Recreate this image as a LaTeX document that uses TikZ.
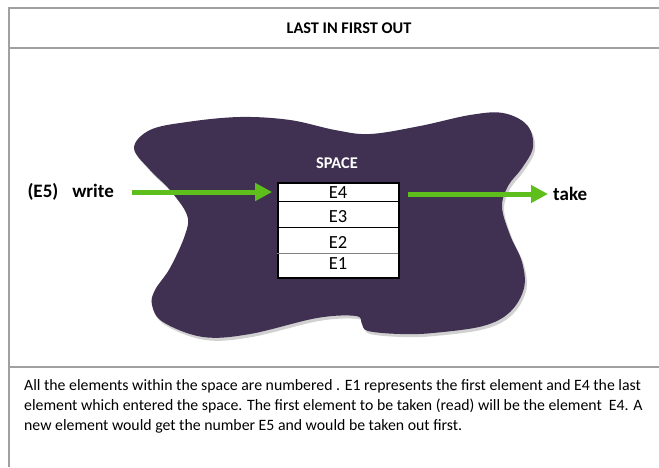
\documentclass[tikz,border=0pt]{standalone}
\usepackage{fontspec}
\setmainfont{Carlito}
\usetikzlibrary{arrows.meta}
\definecolor{blobfill}{RGB}{64,48,82}
\definecolor{flowgreen}{RGB}{94,190,28}
\definecolor{framegray}{RGB}{160,160,160}
\tikzset{
  frameline/.style={draw=framegray, line width=1.4pt},
  flow/.style={draw=flowgreen, line width=5pt, -{Triangle[length=17pt,width=17pt]}},
  cell/.style={inner sep=0pt, font=\fontsize{18.5}{18.5}\selectfont},
  label/.style={inner sep=0pt, font=\bfseries\fontsize{19}{19}\selectfont},
  stackbox/.style={draw=black, fill=white, line width=1.6pt, minimum width=121pt, minimum height=95pt, inner sep=0pt},
  divider/.style={draw=black, line width=0.9pt}
}
\begin{document}
\begin{tikzpicture}[x=1pt,y=-1pt]
\useasboundingbox (0,0) rectangle (659,467);
% table frame
\draw[frameline] (9,467) -- (9,8) -- (659,8);
\draw[frameline] (9,48) -- (659,48);
\draw[frameline] (9,367) -- (659,367);
\node[inner sep=0pt, font=\bfseries\fontsize{16.3}{16.3}\selectfont] (title) at (349,28) {LAST IN FIRST OUT};
% the space (irregular blob) with a soft shadow
\def\blobpath{plot[smooth cycle, tension=0.6] coordinates {
  (134,148) (150,130) (187,122) (240,117) (290,120) (335,130) (370,134)
  (420,126) (470,115) (503,113) (527,125) (533,147) (522,168) (508,186)
  (502,207) (510,235) (522,262) (524,288) (510,312) (483,326) (433,333)
  (400,334) (368,331) (362,324) (356,316) (317,318) (250,334) (203,337)
  (163,322) (152,305) (155,290) (170,268) (185,235) (187,215) (170,190)
  (150,170)}}
\begin{scope}[shift={(2,3)}]
  \fill[black, opacity=0.18] \blobpath;
\end{scope}
\fill[blobfill] \blobpath;
\node[inner sep=0pt, text=white, font=\bfseries\fontsize{16.4}{16.4}\selectfont] (space) at (337,163) {SPACE};
% the stack of elements
\node[stackbox] (stack) at (338.5,230.5) {};
\draw[divider] (stack.west |- 0,201) -- ([xshift=-2pt]stack.east |- 0,201);
\draw[divider] (stack.west |- 0,227) -- ([xshift=-2pt]stack.east |- 0,227);
\draw[divider, draw=gray] (stack.west |- 0,253) -- ([xshift=-2pt]stack.east |- 0,253);
\node[cell] (e4) at (338,193) {E4};
\node[cell] (e3) at (338,217) {E3};
\node[cell] (e2) at (338,242) {E2};
\node[cell] (e1) at (338,264) {E1};
% write / take labels and flows
\node[label, anchor=east] (write) at (114,192) {(E5)\hspace{14pt}write};
\node[label, anchor=west] (take) at (553,194) {take};
\draw[flow] ([xshift=18pt]write.east) -- ([xshift=-5pt]stack.west |- write.east);
\draw[flow] ([xshift=8pt]stack.east |- take.west) -- ([xshift=-5pt]take.west);
% explanation
\node[inner sep=0pt, anchor=north west, align=left, font=\fontsize{15.8}{20}\selectfont] (note) at (24,379)
{All the elements within the space are numbered . E1 represents the first element and E4 the last\\
element which entered the space. The first element to be taken (read) will be the element\ \ E4. A\\
new element would get the number E5 and would be taken out first.};
\end{tikzpicture}
\end{document}
